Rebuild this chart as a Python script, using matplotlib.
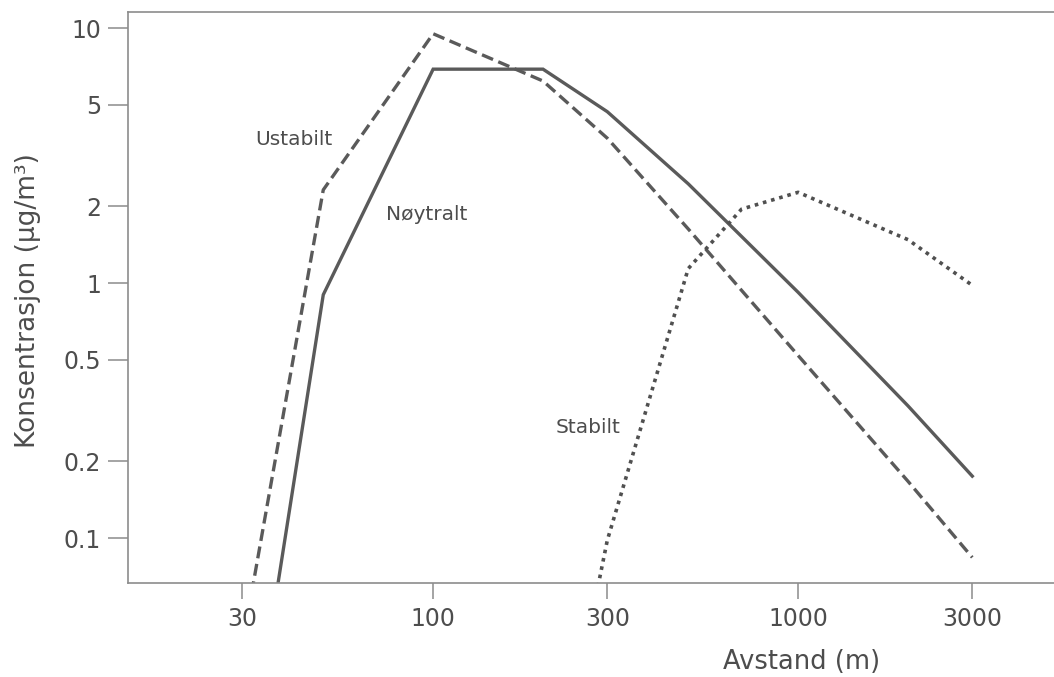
import matplotlib
matplotlib.use("Agg")
import matplotlib.pyplot as plt
from matplotlib.ticker import FixedLocator, FixedFormatter, NullLocator

# ---- data ----
ustabilt_x = [30, 50, 100, 200, 300, 500, 1000, 2000, 3000]
ustabilt_y = [0.038, 2.32, 9.5, 6.2, 3.7, 1.63, 0.52, 0.167, 0.084]

noytralt_x = [30, 50, 100, 200, 300, 500, 1000, 2000, 3000]
noytralt_y = [0.0085, 0.9, 6.9, 6.9, 4.7, 2.45, 0.92, 0.33, 0.175]

stabilt_x = [250, 300, 500, 700, 1000, 2000, 3000]
stabilt_y = [0.027, 0.098, 1.14, 1.95, 2.27, 1.48, 0.98]

x_ticks = [30, 100, 300, 1000, 3000]
x_ticklabels = ["30", "100", "300", "1000", "3000"]
y_ticks = [0.1, 0.2, 0.5, 1, 2, 5, 10]
y_ticklabels = ["0.1", "0.2", "0.5", "1", "2", "5", "10"]

x_label = "Avstand (m)"
y_label = "Konsentrasjon (µg/m³)"
series_labels = ["Ustabilt", "Nøytralt", "Stabilt"]

# ---- style ----
plt.rcParams["font.family"] = ["DejaVu Sans"]
line_col = "#5a5a5a"
text_col = "#4d4d4d"
spine_col = "#8c8c8c"

W, H = 1054, 677
fig = plt.figure(figsize=(W / 100, H / 100), dpi=100)
ax = fig.add_axes([128 / W, 94 / H, 926 / W, 571 / H])
ax.set_xscale("log")
ax.set_yscale("log")
ax.set_xlim(10 ** 1.164, 10 ** 3.701)
ax.set_ylim(10 ** -1.176, 10 ** 1.063)

ax.plot(ustabilt_x, ustabilt_y, color=line_col, lw=2.4,
        linestyle=(0, (3.6, 1.7)), dash_capstyle="butt", solid_joinstyle="miter")
ax.plot(noytralt_x, noytralt_y, color=line_col, lw=2.4, solid_joinstyle="miter")
ax.plot(stabilt_x, stabilt_y, color="#505050", lw=2.6,
        linestyle=(0, (1, 1.35)), dash_capstyle="butt")

ax.text(41.6, 3.64, series_labels[0], ha="center", va="center",
        fontsize=14.5, color=text_col)
ax.text(96.3, 1.85, series_labels[1], ha="center", va="center",
        fontsize=14.5, color=text_col)
ax.text(266, 0.272, series_labels[2], ha="center", va="center",
        fontsize=14.5, color=text_col)

ax.xaxis.set_major_locator(FixedLocator(x_ticks))
ax.xaxis.set_major_formatter(FixedFormatter(x_ticklabels))
ax.xaxis.set_minor_locator(NullLocator())
ax.yaxis.set_major_locator(FixedLocator(y_ticks))
ax.yaxis.set_major_formatter(FixedFormatter(y_ticklabels))
ax.yaxis.set_minor_locator(NullLocator())

ax.tick_params(axis="y", direction="out", length=14.5, width=1.1, color=spine_col,
               labelsize=17, labelcolor=text_col, pad=5)
ax.tick_params(axis="x", direction="out", length=11.5, width=1.1, color=spine_col,
               labelsize=17, labelcolor=text_col, pad=6)

for side in ["left", "top", "bottom"]:
    ax.spines[side].set_color(spine_col)
    ax.spines[side].set_linewidth(1.2)
ax.spines["right"].set_visible(False)

fig.text(802 / W, 1 - 662 / H, x_label, ha="center", va="center",
         fontsize=18.5, color=text_col)
fig.text(28 / W, 1 - 301 / H, y_label, ha="center", va="center",
         rotation=90, fontsize=19, color=text_col)

fig.savefig("out.png", dpi=100)
